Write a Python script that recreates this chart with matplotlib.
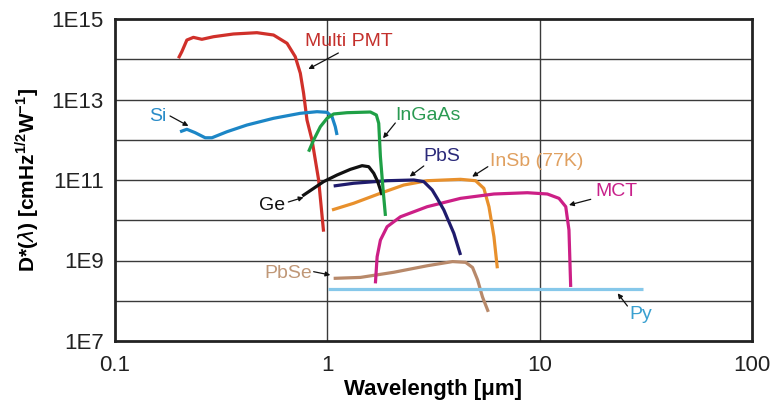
import matplotlib
matplotlib.use("Agg")
import matplotlib.pyplot as plt
from matplotlib.ticker import FixedLocator, NullFormatter, NullLocator

plt.rcParams['font.family'] = ['Liberation Sans', 'DejaVu Sans']
plt.rcParams['mathtext.fontset'] = 'custom'
plt.rcParams['mathtext.rm'] = 'Liberation Sans'
plt.rcParams['mathtext.bf'] = 'Liberation Sans:bold'

# ---- data (wavelength in um, D* in cmHz^1/2/W) ----
pmt_x = [0.199, 0.2064, 0.218, 0.234, 0.2565, 0.291, 0.361, 0.466, 0.558, 0.646, 0.706, 0.746, 0.773, 0.802, 0.847, 0.910, 0.960]
pmt_y = [1.06e14, 1.54e14, 3.0e14, 3.5e14, 3.13e14, 3.63e14, 4.24e14, 4.57e14, 4.0e14, 2.49e14, 1.16e14, 4.5e13, 1.43e13, 3.1e12, 9.8e11, 1.0e11, 5.2e9]

si_x = [0.2025, 0.218, 0.2384, 0.266, 0.286, 0.3365, 0.418, 0.558, 0.746, 0.894, 0.997, 1.052, 1.09, 1.111]
si_y = [1.58e12, 1.82e12, 1.5e12, 1.12e12, 1.12e12, 1.58e12, 2.32e12, 3.41e12, 4.54e12, 4.98e12, 4.8e12, 3.74e12, 2.11e12, 1.31e12]

ingaas_x = [0.816, 0.862, 0.927, 0.997, 1.071, 1.238, 1.595, 1.702, 1.746, 1.778, 1.831, 1.878]
ingaas_y = [5.05e11, 9.86e11, 2.11e12, 3.41e12, 4.37e12, 4.7e12, 4.89e12, 4.12e12, 2.56e12, 3.8e11, 5.65e10, 1.28e10]

ge_x = [0.762, 0.862, 0.960, 1.111, 1.284, 1.458, 1.566, 1.654, 1.727, 1.811]
ge_y = [4.0e10, 6.2e10, 9.1e10, 1.33e11, 1.84e11, 2.27e11, 2.14e11, 1.47e11, 9.1e10, 4.24e10]

pbs_x = [1.071, 1.331, 1.912, 2.554, 2.846, 3.118, 3.293, 3.538, 3.943, 4.24]
pbs_y = [7.1e10, 8.3e10, 9.6e10, 1.0e11, 9.1e10, 5.65e10, 3.5e10, 1.8e10, 4.74e9, 1.37e9]

insb_x = [1.052, 1.33, 1.778, 2.29, 2.953, 4.24, 4.99, 5.46, 5.77, 6.09, 6.32]
insb_y = [1.8e10, 2.64e10, 4.68e10, 7.5e10, 9.6e10, 1.04e11, 9.6e10, 6.2e10, 2.17e10, 3.9e9, 6.4e8]

mct_x = [1.684, 1.716, 1.778, 1.912, 2.21, 2.953, 4.24, 6.09, 8.75, 10.87, 12.33, 13.27, 13.74, 14.0]
mct_y = [2.7e8, 1.24e9, 3.2e9, 6.9e9, 1.22e10, 2.17e10, 3.5e10, 4.49e10, 4.83e10, 4.49e10, 3.5e10, 2.17e10, 5.7e9, 2.2e8]

pbse_x = [1.071, 1.431, 2.055, 2.953, 3.89, 4.48, 4.83, 5.10, 5.38, 5.73]
pbse_y = [3.6e8, 3.8e8, 5.1e8, 7.4e8, 9.4e8, 9.0e8, 6.7e8, 3.3e8, 1.24e8, 5.3e7]

py_x = [1.01, 30.8]
py_y = [1.92e8, 1.92e8]

series = [
    ("Multi PMT", pmt_x, pmt_y, "#D0302A"),
    ("Si", si_x, si_y, "#1C86C6"),
    ("PbSe", pbse_x, pbse_y, "#B8896A"),
    ("Py", py_x, py_y, "#86C8EA"),
    ("InSb (77K)", insb_x, insb_y, "#E8902C"),
    ("MCT", mct_x, mct_y, "#CC1F86"),
    ("PbS", pbs_x, pbs_y, "#1F1B6C"),
    ("Ge", ge_x, ge_y, "#111111"),
    ("InGaAs", ingaas_x, ingaas_y, "#1FA046"),
]

# label: (text, text_pos, arrow_tail, arrow_tip, color)
labels = [
    ("Multi PMT", (1.27, 2.73e14), (1.127, 1.43e14), (0.814, 5.7e13), "#C4302C"),
    ("Si", (0.1586, 3.74e12), (0.1816, 3.9e12), (0.2217, 2.2e12), "#2A8CC8"),
    ("InGaAs", (2.98, 4.12e12), (2.09, 2.61e12), (1.83, 1.09e12), "#2A9A52"),
    ("PbS", (3.47, 3.79e11), (2.846, 2.23e11), (2.443, 1.22e11), "#2B2A7A"),
    ("InSb (77K)", (9.73, 2.85e11), (5.70, 2.14e11), (4.81, 1.21e11), "#E0A060"),
    ("MCT", (23.1, 5.18e10), (17.4, 3.31e10), (13.74, 2.39e10), "#C8208A"),
    ("Ge", (0.55, 2.39e10), (0.655, 2.84e10), (0.773, 3.71e10), "#111111"),
    ("PbSe", (0.655, 4.62e8), (0.862, 5.27e8), (1.033, 4.36e8), "#C09878"),
    ("Py", (29.9, 4.43e7), (25.9, 7.4e7), (23.3, 1.53e8), "#3AA0D0"),
]

xticks = [0.1, 1, 10, 100]
xtick_labels = ["0.1", "1", "10", "100"]
yticks = [1e7, 1e9, 1e11, 1e13, 1e15]
ytick_labels = ["1E7", "1E9", "1E11", "1E13", "1E15"]
ygrid = [1e8, 1e9, 1e10, 1e11, 1e12, 1e13, 1e14]
xgrid = [1, 10]

fig = plt.figure(figsize=(7.72, 4.01), dpi=100)
ax = fig.add_axes([115/772, 1-341/401, (752-115)/772, (341-19)/401])
ax.set_xscale('log')
ax.set_yscale('log')
ax.set_xlim(0.1, 100)
ax.set_ylim(1e7, 1e15)

for g in ygrid:
    ax.axhline(g, color='#3a3a3a', lw=1.0, zorder=1)
for g in xgrid:
    ax.axvline(g, color='#3a3a3a', lw=1.0, zorder=1)

for name, xs, ys, c in series:
    ax.plot(xs, ys, color=c, lw=2.3, solid_capstyle='butt', zorder=3)

for text, tpos, tail, tip, c in labels:
    ax.text(tpos[0], tpos[1], text, color=c, fontsize=14, ha='center', va='center', zorder=5)
    ax.annotate("", xy=tip, xytext=tail,
                arrowprops=dict(arrowstyle='-|>', color='#111111', lw=0.9,
                                mutation_scale=7, shrinkA=0, shrinkB=0), zorder=5)

ax.xaxis.set_major_locator(FixedLocator(xticks))
ax.set_xticklabels(xtick_labels)
ax.yaxis.set_major_locator(FixedLocator(yticks))
ax.set_yticklabels(ytick_labels)
ax.xaxis.set_minor_locator(NullLocator())
ax.yaxis.set_minor_locator(NullLocator())
ax.tick_params(axis='both', length=0, labelsize=16, colors='#222222')
ax.tick_params(axis='x', pad=10)
ax.tick_params(axis='y', pad=8)

for sp in ax.spines.values():
    sp.set_color('#222222')
    sp.set_linewidth(2.0)

ax.set_xlabel("Wavelength [μm]", fontsize=16, fontweight='bold', labelpad=2)
ax.set_ylabel(r"D*($\lambda$) [cmHz$^{\mathbf{1/2}}$W$^{\mathbf{-1}}$]", fontsize=15,
              fontweight='bold', labelpad=8)

fig.savefig("out.png", dpi=100)
